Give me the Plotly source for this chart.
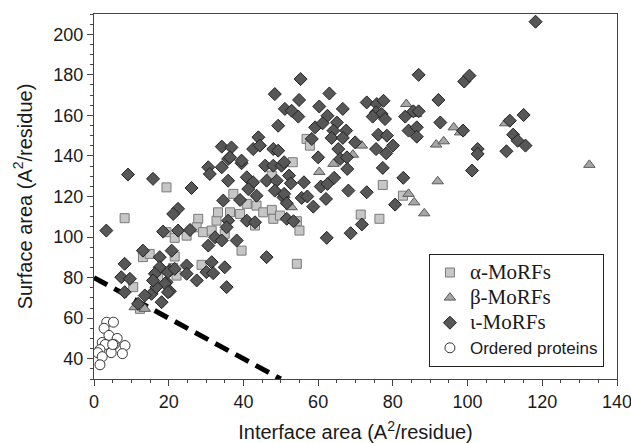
import plotly.graph_objects as go

# alpha-MoRFs (squares)
alpha_x = [19.4, 8.2, 19.4, 21.6, 24.8, 27.9, 27.5, 29.2, 31.5, 32.8, 33.2, 35.0, 37.3, 40.9, 43.5,
           36.4, 39.1, 43.1, 45.3, 47.6, 48.0, 49.8, 13.1, 21.6, 39.5, 28.8, 21.2, 22.1, 17.2, 10.5,
           47.6, 14.9, 12.3, 56.9, 57.8, 53.2, 54.3, 55.0, 77.3, 82.7, 71.4, 76.4, 54.3]
alpha_y = [124.5, 109.3, 102.4, 99.6, 100.7, 109.0, 104.8, 102.4, 103.2, 108.1, 112.2, 101.6, 121.3, 116.4, 115.5,
           112.2, 111.4, 105.7, 112.2, 113.4, 109.0, 110.6, 90.1, 90.4, 93.3, 86.3, 84.8, 81.0, 80.2, 75.3,
           130.3, 91.7, 64.6, 148.4, 145.1, 136.9, 107.8, 103.2, 125.7, 120.4, 111.1, 109.0, 86.8]

# beta-MoRFs (triangles)
beta_x = [71.7, 69.3, 60.3, 64.1, 83.6, 86.2, 96.3, 91.6, 93.6, 92.0, 84.2, 85.7, 88.4, 110.1, 98.0,
          132.6, 10.9, 13.6, 52.9]
beta_y = [145.1, 140.6, 132.1, 136.1, 165.6, 160.7, 154.1, 145.6, 147.2, 127.5, 121.3, 117.1, 111.7, 156.1, 151.6,
          135.6, 65.4, 64.6, 114.7]

# iota-MoRFs (diamonds)
iota_x = [9.1, 15.8, 26.1, 22.5, 21.2, 3.3, 18.5, 22.5, 25.7, 13.1, 20.8, 17.6, 8.2, 17.6, 20.3,
          24.8, 31.5, 35.0, 30.1, 31.9, 7.3, 9.6, 16.3, 19.4, 24.8, 27.5, 35.5, 46.2, 30.6, 34.2,
          31.0, 35.9, 39.5, 35.9, 40.9, 42.6, 34.6, 39.1, 41.3, 43.5, 35.9, 35.5, 40.9, 43.1, 38.2,
          32.4, 34.2, 30.6, 45.8, 48.0, 46.2, 48.9, 48.4, 50.7, 51.6, 50.2, 15.4, 11.8, 18.1, 13.6,
          19.0, 16.7, 20.3, 8.2, 15.8, 19.8, 21.6, 19.8,
          48.4, 51.1, 49.3, 44.0, 34.2, 36.8, 42.6, 48.0, 49.3, 36.4, 39.5, 44.4,
          55.3, 54.9, 63.0, 52.9, 54.7, 60.3, 66.6, 62.5, 59.2, 61.2, 65.0, 64.1, 67.5, 58.3, 63.6,
          66.6, 69.9, 65.4, 60.0, 65.9, 67.7, 50.9, 67.8, 52.2, 52.7, 56.2, 60.7, 62.5, 64.3, 50.9,
          55.6, 57.1, 62.1, 68.1, 73.0, 51.6, 58.7, 53.4, 71.7, 68.7, 62.3,
          73.0, 75.7, 77.5, 75.5, 77.0, 74.6, 77.9, 76.1, 78.4, 80.0, 75.5, 78.2, 77.3, 82.8, 80.6,
          86.9, 83.3, 85.5, 86.9, 84.2, 86.4, 86.4, 92.2, 92.7, 98.8, 102.7, 102.7, 101.2, 99.1, 100.5,
          111.3, 112.2, 113.4, 110.4, 118.2, 115.0, 115.5]
iota_y = [130.8, 128.7, 124.2, 113.9, 111.4, 103.2, 102.7, 103.2, 103.5, 93.3, 93.3, 90.1, 86.8, 85.1, 83.5,
          86.0, 87.6, 85.1, 82.7, 82.2, 80.2, 79.4, 81.9, 77.7, 81.9, 78.6, 75.3, 90.1, 134.4, 134.4,
          131.1, 138.5, 136.4, 127.8, 129.5, 127.0, 118.0, 118.3, 123.7, 120.4, 108.1, 104.8, 108.1, 107.3, 98.3,
          99.9, 98.3, 95.8, 135.2, 135.2, 127.8, 127.8, 122.9, 119.6, 109.0, 135.2, 72.0, 67.1, 67.9, 71.2,
          77.0, 75.3, 73.3, 72.8, 78.6, 82.7, 84.3, 72.8,
          170.5, 163.2, 154.9, 149.2, 144.6, 144.2, 143.4, 143.4, 142.6, 139.3, 137.7, 145.1,
          177.9, 167.6, 170.8, 162.3, 159.4, 164.4, 163.2, 159.8, 154.1, 156.1, 156.5, 152.5, 152.5, 148.4, 148.9,
          148.9, 146.7, 143.4, 139.3, 138.5, 139.3, 136.9, 133.6, 130.3, 126.5, 127.0, 124.9, 126.2, 129.2, 121.3,
          119.3, 120.0, 118.8, 122.9, 122.1, 116.7, 115.0, 107.8, 106.2, 101.9, 99.6,
          166.4, 165.6, 167.2, 161.5, 160.7, 159.4, 158.2, 150.5, 150.0, 145.1, 143.4, 141.3, 134.1, 129.2, 116.0,
          180.0, 159.4, 162.0, 162.0, 152.5, 154.1, 149.5, 167.6, 156.5, 152.5, 143.4, 141.0, 132.8, 176.7, 179.6,
          157.4, 150.5, 147.5, 142.3, 206.2, 160.2, 145.1]

# Ordered proteins (circles)
ordered_x = [3.4, 5.2, 2.7, 4.0, 6.2, 2.2, 3.0, 5.4, 8.3, 1.6, 4.6, 7.6, 1.0, 2.2, 1.6, 5.0]
ordered_y = [58.0, 58.0, 55.0, 51.5, 50.0, 48.0, 47.0, 47.0, 46.5, 44.5, 43.0, 42.5, 43.0, 41.0, 37.0, 47.0]

# dashed boundary
boundary_x = [0, 50]
boundary_y = [80, 30]

SERIF = "'Liberation Serif', 'Times New Roman', serif"
SANS = "'Liberation Sans', Arial, sans-serif"

fig = go.Figure()
fig.add_trace(go.Scatter(
    x=boundary_x, y=boundary_y, mode="lines", showlegend=False,
    line=dict(color="black", width=5, dash="15px,8px"), hoverinfo="skip"))
fig.add_trace(go.Scatter(
    x=alpha_x, y=alpha_y, mode="markers",
    name=f"<span style=\"font-family:{SERIF}; font-size:21px\">α-MoRFs</span>",
    marker=dict(symbol="square", size=9, color="#c6c6c6", line=dict(color="#7a7a7a", width=1))))
fig.add_trace(go.Scatter(
    x=beta_x, y=beta_y, mode="markers",
    name=f"<span style=\"font-family:{SERIF}; font-size:21px\">β-MoRFs</span>",
    marker=dict(symbol="triangle-up", size=10, color="#a6a6a6", line=dict(color="#5a5a5a", width=1))))
fig.add_trace(go.Scatter(
    x=iota_x, y=iota_y, mode="markers",
    name=f"<span style=\"font-family:{SERIF}; font-size:21px\">ι-MoRFs</span>",
    marker=dict(symbol="diamond", size=10, color="#575757", line=dict(color="#222222", width=1))))
fig.add_trace(go.Scatter(
    x=ordered_x, y=ordered_y, mode="markers", name="Ordered proteins",
    marker=dict(symbol="circle", size=10, color="white", line=dict(color="#333333", width=1))))

axis_common = dict(
    showgrid=False, zeroline=False, showline=True, linecolor="#444444", linewidth=1, mirror=True,
    ticks="outside", ticklen=6, tickcolor="#444444", automargin=False, ticklabeloverflow="allow",
    tickfont=dict(family=SANS, size=18, color="#1a1a1a"),
)

fig.update_layout(
    width=631, height=443,
    margin=dict(l=94, r=14, t=14, b=64),
    paper_bgcolor="white", plot_bgcolor="white",
    font=dict(family=SANS, color="#1a1a1a"),
    xaxis=dict(range=[0, 140], dtick=20, tick0=0,
               minor=dict(dtick=5, ticks="outside", ticklen=3, tickcolor="#444444"),
               title=dict(text="Interface area (A<sup>2</sup>/residue)", font=dict(size=20)),
               **axis_common),
    yaxis=dict(range=[30, 210], dtick=20, tick0=0,
               minor=dict(dtick=5, ticks="outside", ticklen=3, tickcolor="#444444"),
               title=dict(text="Surface area (A<sup>2</sup>/residue)", font=dict(size=20)),
               **axis_common),
    legend=dict(x=0.975, y=0.033, xanchor="right", yanchor="bottom",
                bordercolor="#222222", borderwidth=1, bgcolor="white",
                font=dict(size=17, family=SANS, color="#1a1a1a"),
                tracegroupgap=0),
)

fig.write_html("out.html",
               config={"displayModeBar": False},
               post_script="document.body.style.margin='0';document.body.style.overflow='hidden';")
